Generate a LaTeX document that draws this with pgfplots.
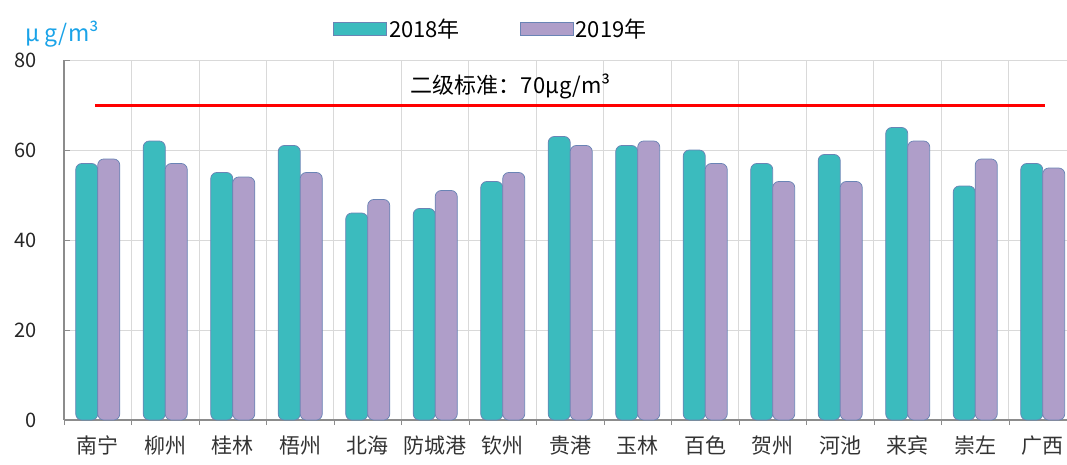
\documentclass[border=0pt]{standalone}
\usepackage{pgfplots}
\pgfplotsset{compat=1.18}
\usepackage{fontspec}
\setmainfont{Noto Sans CJK SC}
\definecolor{teal18}{HTML}{3BBBBE}
\definecolor{purp19}{HTML}{AF9EC9}
\definecolor{edgec}{HTML}{6A84B5}
\definecolor{gridc}{HTML}{D9D9D9}
\definecolor{axc}{HTML}{8C8C8C}
\definecolor{unitc}{HTML}{1AA3E8}
\begin{document}
\begin{tikzpicture}
\useasboundingbox (0,0) rectangle (1067pt,464pt);
\begin{axis}[
  at={(64pt,44pt)}, anchor=south west,
  scale only axis, width=1012.5pt, height=360pt,
  xmin=-0.5, xmax=14.5, ymin=0, ymax=80,
  axis x line=bottom, axis y line=left,
  axis line style={axc, line width=1.2pt, -},
  ybar, bar width=22pt,
  xtick={0,...,14},
  xticklabels={南宁,柳州,桂林,梧州,北海,防城港,钦州,贵港,玉林,百色,贺州,河池,来宾,崇左,广西},
  major x tick style={draw=none},
  minor xtick={-0.5,0.5,...,14.5},
  minor x tick style={axc, line width=0.8pt},
  minor tick length=5pt,
  xminorgrids=true,
  ytick={0,20,40,60,80},
  ymajorgrids=true,
  grid style={gridc, line width=1pt},
  minor grid style={gridc, line width=1pt},
  y tick style={axc, line width=0.8pt},
  major tick length=6pt,
  tick align=inside,
  minor x tick style={/pgfplots/tick align=outside},
  /pgf/number format/assume math mode=true,
  tick label style={font=\fontsize{20}{24}\selectfont, text=black!85},
  yticklabel style={xshift=-24pt},
  xticklabel style={font=\fontsize{21}{24}\selectfont, text=black!80, yshift=-12pt},
  clip=false,
  legend columns=2,
  legend style={at={(0.4217,1.086)}, anchor=center, draw=none, fill=none,
    font=\fontsize{22}{26}\selectfont,
    /tikz/every even column/.append style={column sep=58pt}},
  legend image code/.code={\fill[#1, sharp corners] (0pt,-6.5pt) rectangle (53pt,6.5pt);},
]
\addplot[fill=teal18, draw=edgec, line width=0.7pt, /tikz/rounded corners=6pt, bar shift=-11pt]
  coordinates {(0,57) (1,62) (2,55) (3,61) (4,46) (5,47) (6,53) (7,63) (8,61) (9,60) (10,57) (11,59) (12,65) (13,52) (14,57)};
\addlegendentry{2018年}
\addplot[fill=purp19, draw=edgec, line width=0.7pt, /tikz/rounded corners=6pt, bar shift=11pt]
  coordinates {(0,58) (1,57) (2,54) (3,55) (4,49) (5,51) (6,55) (7,61) (8,62) (9,57) (10,53) (11,53) (12,62) (13,58) (14,56)};
\addlegendentry{2019年}
\addplot[sharp plot, red, line width=3pt, forget plot, bar shift=0pt] coordinates {(-0.04,70) (14.03,70)};
\node[font=\fontsize{22}{26}\selectfont] at (axis cs:6.12,74.2) {二级标准：70μg/m³};
\end{axis}
\node[anchor=west, text=unitc, font=\fontsize{23}{26}\selectfont, inner sep=0pt] at (25pt,430pt) {μ g/m³};
\end{tikzpicture}
\end{document}
